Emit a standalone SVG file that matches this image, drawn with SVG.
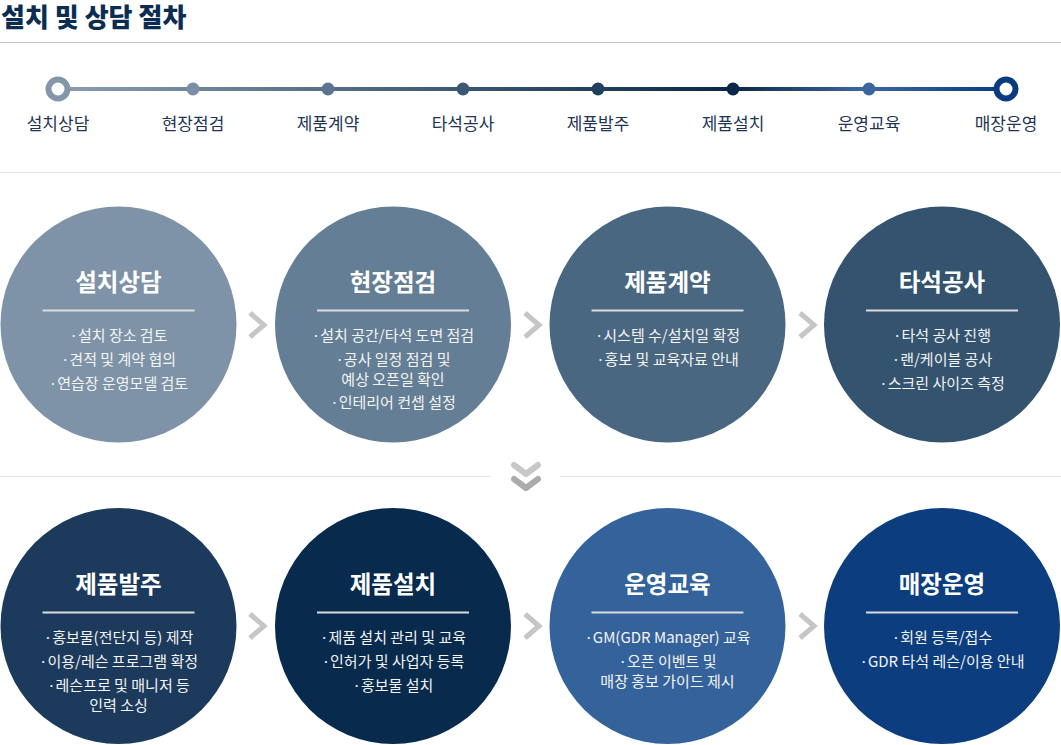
<svg xmlns="http://www.w3.org/2000/svg" width="1061" height="745" viewBox="0 0 1061 745">
<style>
text{font-family:"Noto Sans CJK KR","Noto Sans",sans-serif;}
.h1{font-size:26px;font-weight:900;fill:#0c2d52;}
.tl{font-size:17px;fill:#1f3553;text-anchor:middle;}
.ct{font-size:23.5px;font-weight:700;fill:#ffffff;text-anchor:middle;}
.cb{font-size:15px;fill:#f4f4f4;text-anchor:middle;}
.ul{stroke:#dcdcdc;stroke-width:2;}
.sep{stroke:#e6e6e6;stroke-width:1;}
.chev{fill:none;stroke:#c6c6c6;stroke-width:5;stroke-linejoin:miter;}
</style>
<defs>
<linearGradient id="tg" gradientUnits="userSpaceOnUse" x1="58" y1="0" x2="1006" y2="0">
<stop offset="0" stop-color="#8c9db0"/>
<stop offset="0.43" stop-color="#3a5673"/>
<stop offset="0.71" stop-color="#0b2748"/>
<stop offset="0.85" stop-color="#3d68a0"/>
<stop offset="1" stop-color="#073a80"/>
</linearGradient>
</defs>
<rect width="1061" height="745" fill="#ffffff"/>
<text class="h1" x="1" y="27">설치 및 상담 절차</text>
<line x1="0" y1="42.5" x2="1061" y2="42.5" stroke="#c8c8c8" stroke-width="1"/>

<g id="timeline">
<line x1="58" y1="89" x2="1006" y2="89" stroke="url(#tg)" stroke-width="4"/>
<circle cx="58" cy="89" r="9.5" fill="#ffffff" stroke="#8496a9" stroke-width="6"/>
<circle cx="193" cy="89" r="6.5" fill="#7a8fa4"/>
<circle cx="328" cy="89" r="6.5" fill="#5b7590"/>
<circle cx="463" cy="89" r="6.5" fill="#3b5876"/>
<circle cx="598" cy="89" r="6.5" fill="#213f5f"/>
<circle cx="733" cy="89" r="6.5" fill="#0b2748"/>
<circle cx="869" cy="89" r="6.5" fill="#3a659d"/>
<circle cx="1006" cy="89" r="9.5" fill="#ffffff" stroke="#0a3b80" stroke-width="6"/>
<text class="tl" x="58" y="130">설치상담</text>
<text class="tl" x="193" y="130">현장점검</text>
<text class="tl" x="328" y="130">제품계약</text>
<text class="tl" x="463" y="130">타석공사</text>
<text class="tl" x="598" y="130">제품발주</text>
<text class="tl" x="733" y="130">제품설치</text>
<text class="tl" x="869" y="130">운영교육</text>
<text class="tl" x="1006" y="130">매장운영</text>
</g>

<line class="sep" x1="0" y1="172.5" x2="1061" y2="172.5"/>
<line class="sep" x1="0" y1="476.5" x2="490" y2="476.5"/>
<line class="sep" x1="560" y1="476.5" x2="1061" y2="476.5"/>

<g id="n1">
<circle cx="118.5" cy="324.5" r="118" fill="#7e93a7"/>
<text class="ct" x="118.5" y="291">설치상담</text>
<line class="ul" x1="42.5" y1="310.5" x2="194.5" y2="310.5"/>
<text class="cb" x="118.5" y="341">·설치 장소 검토</text>
<text class="cb" x="118.5" y="365">·견적 및 계약 협의</text>
<text class="cb" x="118.5" y="389">·연습장 운영모델 검토</text>
</g>
<g id="n2">
<circle cx="393" cy="324.5" r="118" fill="#647e95"/>
<text class="ct" x="393" y="291">현장점검</text>
<line class="ul" x1="317" y1="310.5" x2="469" y2="310.5"/>
<text class="cb" x="393" y="341">·설치 공간/타석 도면 점검</text>
<text class="cb" x="393" y="365">·공사 일정 점검 및</text>
<text class="cb" x="393" y="385">예상 오픈일 확인</text>
<text class="cb" x="393" y="408">·인테리어 컨셉 설정</text>
</g>
<g id="n3">
<circle cx="667.5" cy="324.5" r="118" fill="#4a6781"/>
<text class="ct" x="667.5" y="291">제품계약</text>
<line class="ul" x1="591.5" y1="310.5" x2="743.5" y2="310.5"/>
<text class="cb" x="667.5" y="341">·시스템 수/설치일 확정</text>
<text class="cb" x="667.5" y="365">·홍보 및 교육자료 안내</text>
</g>
<g id="n4">
<circle cx="942" cy="324.5" r="118" fill="#33536f"/>
<text class="ct" x="942" y="291">타석공사</text>
<line class="ul" x1="866" y1="310.5" x2="1018" y2="310.5"/>
<text class="cb" x="942" y="341">·타석 공사 진행</text>
<text class="cb" x="942" y="365">·랜/케이블 공사</text>
<text class="cb" x="942" y="389">·스크린 사이즈 측정</text>
</g>

<g id="n5">
<circle cx="118.5" cy="626" r="118" fill="#1c3a5c"/>
<text class="ct" x="118.5" y="593">제품발주</text>
<line class="ul" x1="42.5" y1="612.5" x2="194.5" y2="612.5"/>
<text class="cb" x="118.5" y="643">·홍보물(전단지 등) 제작</text>
<text class="cb" x="118.5" y="667">·이용/레슨 프로그램 확정</text>
<text class="cb" x="118.5" y="691">·레슨프로 및 매니저 등</text>
<text class="cb" x="118.5" y="711">인력 소싱</text>
</g>
<g id="n6">
<circle cx="393" cy="626" r="118" fill="#072a4d"/>
<text class="ct" x="393" y="593">제품설치</text>
<line class="ul" x1="317" y1="612.5" x2="469" y2="612.5"/>
<text class="cb" x="393" y="643">·제품 설치 관리 및 교육</text>
<text class="cb" x="393" y="667">·인허가 및 사업자 등록</text>
<text class="cb" x="393" y="691">·홍보물 설치</text>
</g>
<g id="n7">
<circle cx="667.5" cy="626" r="118" fill="#34639b"/>
<text class="ct" x="667.5" y="593">운영교육</text>
<line class="ul" x1="591.5" y1="612.5" x2="743.5" y2="612.5"/>
<text class="cb" x="667.5" y="643">·GM(GDR Manager) 교육</text>
<text class="cb" x="667.5" y="667">·오픈 이벤트 및</text>
<text class="cb" x="667.5" y="687">매장 홍보 가이드 제시</text>
</g>
<g id="n8">
<circle cx="942" cy="626" r="118" fill="#0b3d7f"/>
<text class="ct" x="942" y="593">매장운영</text>
<line class="ul" x1="866" y1="612.5" x2="1018" y2="612.5"/>
<text class="cb" x="942" y="643">·회원 등록/접수</text>
<text class="cb" x="942" y="667">·GDR 타석 레슨/이용 안내</text>
</g>

<g id="connectors">
<polyline class="chev" points="250,313 264,325 250,337"/>
<polyline class="chev" points="525,313 539,325 525,337"/>
<polyline class="chev" points="800,313 814,325 800,337"/>
<polyline class="chev" points="250,614 264,626 250,638"/>
<polyline class="chev" points="525,614 539,626 525,638"/>
<polyline class="chev" points="800,614 814,626 800,638"/>
<polyline points="514,465 526,474 538,465" fill="none" stroke="#c8c8c8" stroke-width="6" stroke-linecap="round" stroke-linejoin="round"/>
<polyline points="514,479 526,488 538,479" fill="none" stroke="#ababab" stroke-width="6" stroke-linecap="round" stroke-linejoin="round"/>
</g>
</svg>
